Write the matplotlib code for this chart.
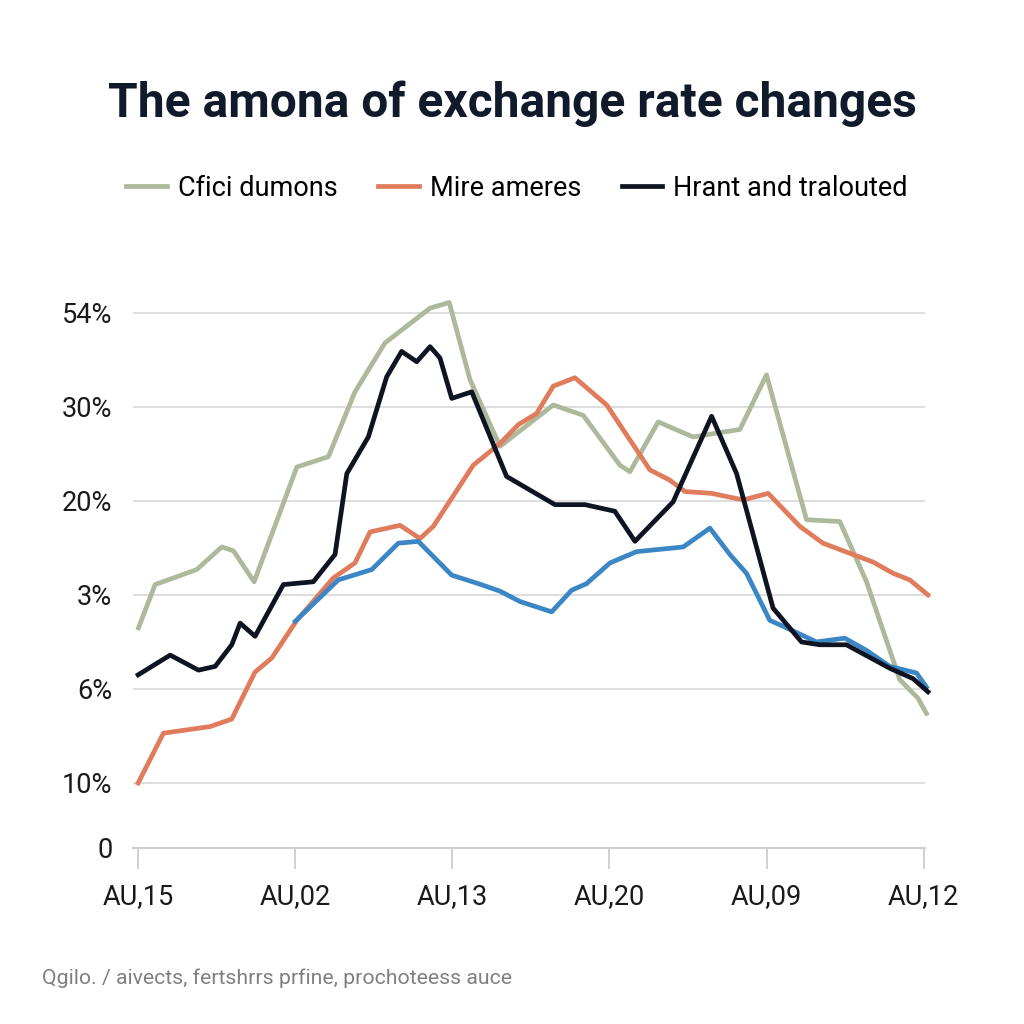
import matplotlib.pyplot as plt

plt.rcParams['font.family'] = ['Roboto', 'DejaVu Sans']

# data (x in tick units, y in gridline units)
green_x = [0.02, 1.08, 3.73, 5.32, 6.06, 7.38, 10.10, 12.11, 13.80, 15.71, 18.58, 19.80,
           21.12, 23.03, 26.42, 28.33, 30.66, 31.30, 33.10, 35.32, 38.30, 39.99, 42.54,
           44.66, 46.36, 48.47, 49.64, 50.17]
green_y = [2.65, 3.11, 3.27, 3.51, 3.47, 3.14, 4.36, 4.47, 5.16, 5.68, 6.05, 6.11,
           5.29, 4.58, 5.02, 4.91, 4.38, 4.31, 4.84, 4.68, 4.76, 5.34, 3.80,
           3.78, 3.14, 2.10, 1.90, 1.74]

black_x = [0.0, 2.04, 3.84, 4.90, 5.96, 6.49, 7.44, 9.24, 11.15, 12.53, 13.28, 14.65,
           15.82, 16.77, 17.73, 18.58, 19.21, 19.96, 21.23, 23.45, 26.53, 28.44, 30.34,
           31.62, 34.05, 36.50, 38.09, 40.41, 42.22, 43.38, 45.08, 47.84, 49.32, 50.27]
black_y = [2.15, 2.36, 2.20, 2.24, 2.47, 2.70, 2.56, 3.11, 3.14, 3.43, 4.29, 4.68,
           5.32, 5.59, 5.48, 5.64, 5.52, 5.09, 5.16, 4.26, 3.96, 3.96, 3.89,
           3.57, 3.99, 4.90, 4.29, 2.86, 2.50, 2.47, 2.47, 2.22, 2.11, 1.97]

orange_x = [0.0, 1.61, 4.58, 5.96, 7.44, 8.51, 10.10, 12.42, 13.80, 14.76, 16.67, 17.94,
            18.79, 21.33, 23.03, 24.19, 25.36, 26.42, 27.80, 29.82, 32.57, 33.84, 34.80,
            36.50, 38.51, 40.10, 42.11, 43.59, 46.77, 48.05, 49.11, 50.27]
orange_y = [1.00, 1.53, 1.60, 1.68, 2.18, 2.33, 2.73, 3.18, 3.34, 3.67, 3.74, 3.60,
            3.73, 4.38, 4.61, 4.81, 4.93, 5.22, 5.31, 5.02, 4.33, 4.22, 4.10,
            4.08, 4.01, 4.08, 3.73, 3.55, 3.35, 3.23, 3.16, 3.00]

blue_x = [10.0, 12.74, 14.87, 16.56, 17.83, 19.96, 21.65, 23.03, 24.30, 26.32, 27.59,
          28.54, 30.03, 31.72, 34.69, 36.39, 37.66, 38.72, 40.20, 41.27, 43.17, 44.97,
          46.36, 47.84, 49.54, 50.17]
blue_y = [2.72, 3.16, 3.27, 3.55, 3.57, 3.21, 3.12, 3.04, 2.93, 2.82, 3.05,
          3.12, 3.34, 3.46, 3.51, 3.71, 3.43, 3.23, 2.73, 2.65, 2.50, 2.54,
          2.41, 2.24, 2.17, 2.02]

x_ticks = [0, 10, 20, 30, 40, 50]
x_labels = ['AU,15', 'AU,02', 'AU,13', 'AU,20', 'AU,09', 'AU,12']
y_ticks = [0.31, 1, 2, 3, 4, 5, 6]
y_labels = ['0', '10%', '6%', '3%', '20%', '30%', '54%']

fig = plt.figure(figsize=(10.24, 10.24), dpi=100)
ax = fig.add_axes([0.130, 0.172, 0.773, 0.545])

for yv in y_ticks[1:]:
    ax.axhline(yv, color='#dedede', lw=1.5, zorder=0)

ax.plot(green_x, green_y, color='#adb99b', lw=3.4, label='Cfici dumons', clip_on=False)
ax.plot(orange_x, orange_y, color='#e07c5c', lw=3.4, label='Mire ameres', clip_on=False)
ax.plot(blue_x, blue_y, color='#3b86c4', lw=3.4, clip_on=False)
ax.plot(black_x, black_y, color='#0e1422', lw=3.4, label='Hrant and tralouted', clip_on=False)

ax.set_xlim(-0.32, 50.06)
ax.set_ylim(0.31, 6.245)
ax.set_xticks(x_ticks)
ax.set_xticklabels(x_labels, fontsize=19.5, color='#1a1a1a')
ax.set_yticks(y_ticks)
ax.set_yticklabels(y_labels, fontsize=19.5, color='#1a1a1a')
ax.tick_params(axis='y', length=0, pad=15)
ax.tick_params(axis='x', length=15, width=1.2, color='#c8c8c8', pad=10)
for s in ['top', 'right', 'left']:
    ax.spines[s].set_visible(False)
ax.spines['bottom'].set_color('#d0d0d0')
ax.spines['bottom'].set_linewidth(1.5)

fig.text(0.5, 0.899, 'The amona of exchange rate changes', ha='center', va='center',
         fontsize=34.5, fontweight='bold', color='#111a2b')

fig.legend(loc='center', bbox_to_anchor=(0.505, 0.816), ncol=3, frameon=False,
           fontsize=19.5, handlelength=1.5, columnspacing=1.5, handletextpad=0.4)

fig.text(0.041, 0.045, 'Qgilo. / aivects, fertshrrs prfine, prochoteess auce',
         fontsize=15.3, color='#808080', va='center')

fig.savefig('out.png', dpi=100, facecolor='white')
